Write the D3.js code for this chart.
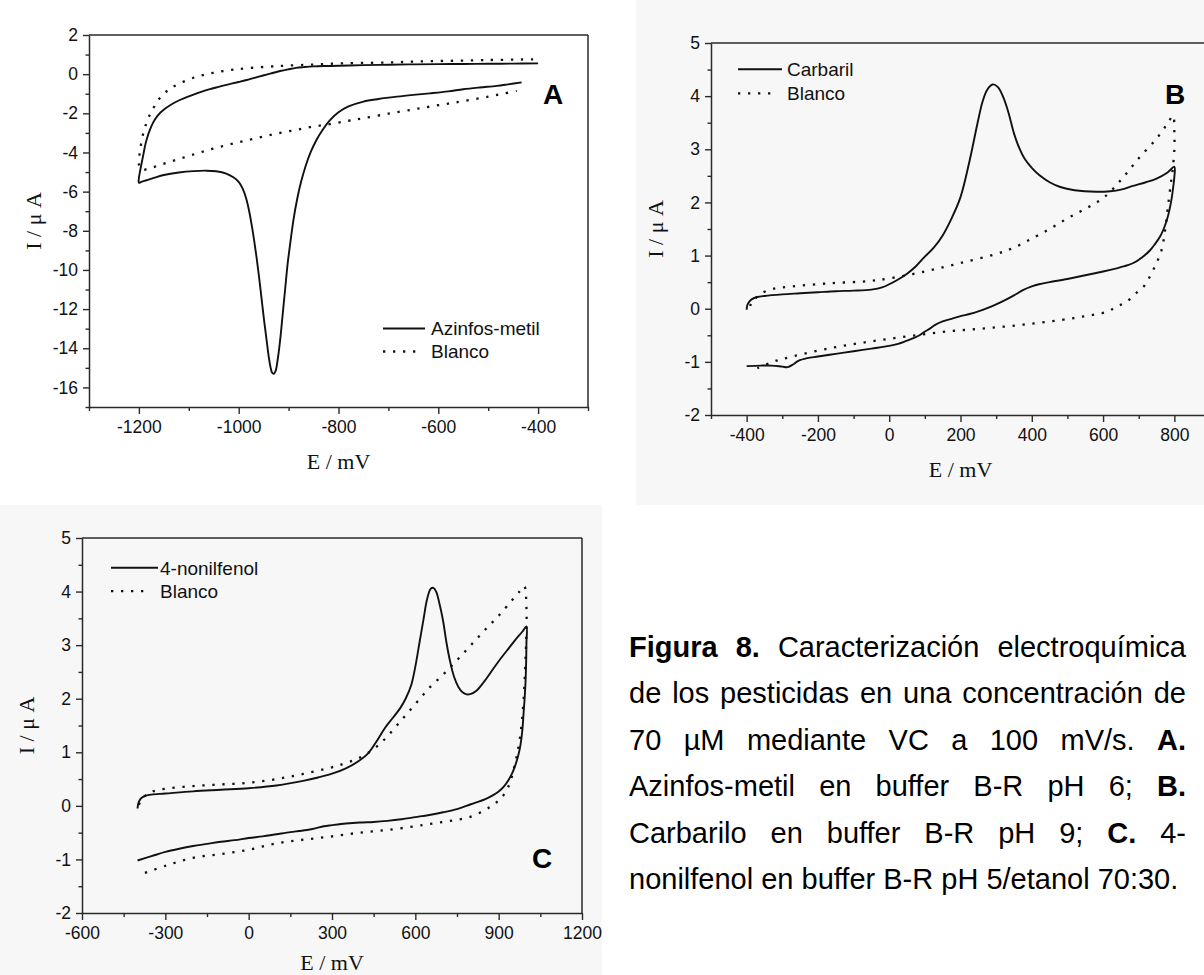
<!DOCTYPE html>
<html><head><meta charset="utf-8">
<script src="https://cdn.jsdelivr.net/npm/d3@7"></script>
<style>body{margin:0;background:#fff}svg{display:block}</style>
</head><body>
<svg id="fig" width="1204" height="975"></svg>
<script>
// ---------- DATA ----------
// Panel A: Azinfos-metil (solid) and Blanco (dotted)
const aAzinfosE = [-400,-450,-500,-550,-600,-650,-700,-750,-817,-850,-870,-885,-900,-917,-935,-951,-970,-984,-1000,-1017,-1035,-1051,-1068,-1084,-1100,-1118,-1135,-1151,-1162,-1171,-1178,-1184,-1188,-1191,-1195,-1198,-1200,
  -1200,-1195,-1185,-1170,-1150,-1120,-1090,-1065,-1045,-1025,-1010,-1000,-992,-985,-979,-974,-969,-964,-959,-954,-949,-944,-940,-936,-933,-930,-926,-922,-917,-912,-907,-902,-896,-890,-883,-875,-866,-856,-845,-832,-817,-800,-780,-750,-720,-683,-650,-617,-580,-550,-517,-483,-460,-433];
const aAzinfosI = [0.55,0.54,0.53,0.52,0.51,0.5,0.48,0.46,0.42,0.4,0.36,0.32,0.25,0.16,0.04,-0.07,-0.2,-0.3,-0.4,-0.5,-0.61,-0.72,-0.84,-0.98,-1.13,-1.32,-1.55,-1.83,-2.1,-2.45,-2.85,-3.3,-3.7,-4.1,-4.6,-5.0,-5.3,
  -5.55,-5.5,-5.42,-5.3,-5.15,-5.02,-4.95,-4.93,-4.96,-5.08,-5.28,-5.5,-5.85,-6.35,-7.0,-7.7,-8.5,-9.4,-10.4,-11.5,-12.6,-13.6,-14.4,-15.0,-15.25,-15.3,-15.15,-14.6,-13.6,-12.3,-11.0,-9.7,-8.5,-7.4,-6.4,-5.5,-4.7,-4.0,-3.4,-2.85,-2.35,-1.95,-1.65,-1.4,-1.27,-1.15,-1.06,-0.98,-0.88,-0.77,-0.68,-0.6,-0.52,-0.42];
const aBlancoE = [-410,-500,-617,-700,-817,-851,-917,-984,-1017,-1051,-1084,-1118,-1141,-1158,-1171,-1181,-1191,-1198,-1200,
  -1195,-1184,-1151,-1118,-1084,-1051,-1017,-984,-950,-917,-884,-851,-817,-780,-750,-700,-650,-617,-580,-550,-500,-470,-443];
const aBlancoI = [0.76,0.72,0.66,0.6,0.53,0.49,0.42,0.3,0.21,0.07,-0.13,-0.47,-0.81,-1.22,-1.73,-2.24,-3.0,-3.96,-4.6,
  -4.88,-4.85,-4.58,-4.32,-4.05,-3.8,-3.58,-3.38,-3.18,-3.0,-2.84,-2.68,-2.55,-2.38,-2.25,-2.02,-1.8,-1.66,-1.5,-1.38,-1.15,-1.0,-0.86];

// Panel B: Carbaril (solid) and Blanco (dotted)
const bCarbarilE = [-400,-398,-393,-385,-370,-350,-300,-250,-200,-150,-100,-50,-20,0,25,50,75,100,125,150,175,200,226,248,262,275,290,305,320,335,350,365,380,400,420,450,480,520,580,620,650,684,720,750,780,800,
  800,797,793,786,779,770,760,746,732,710,685,660,638,600,550,500,450,420,400,375,350,325,300,275,250,225,200,175,150,130,115,100,85,70,50,25,0,-50,-100,-150,-200,-230,-255,-270,-285,-300,-330,-360,-400];
const bCarbarilI = [-0.02,0.07,0.13,0.18,0.22,0.24,0.27,0.29,0.31,0.33,0.34,0.36,0.4,0.46,0.55,0.66,0.8,0.98,1.15,1.38,1.7,2.1,2.8,3.5,3.9,4.12,4.22,4.17,3.98,3.68,3.3,3.02,2.82,2.65,2.52,2.38,2.29,2.23,2.2,2.21,2.24,2.31,2.38,2.45,2.56,2.67,
  2.48,2.3,2.1,1.85,1.67,1.5,1.36,1.22,1.1,0.97,0.86,0.8,0.76,0.7,0.63,0.56,0.5,0.46,0.42,0.35,0.25,0.16,0.08,0.01,-0.05,-0.1,-0.14,-0.19,-0.24,-0.3,-0.37,-0.43,-0.5,-0.55,-0.6,-0.66,-0.7,-0.75,-0.8,-0.85,-0.9,-0.93,-0.98,-1.05,-1.1,-1.09,-1.07,-1.07,-1.08];
const bBlancoE = [-390,-386,-375,-359,-327,-272,-164,-56,0,100,200,300,350,400,450,500,550,600,650,700,750,780,792,797,
  800,800,795,790,782,774,764,750,736,718,694,666,638,610,550,484,376,268,160,52,-56,-164,-272,-327,-370];
const bBlancoI = [0.05,0.13,0.2,0.29,0.37,0.42,0.48,0.52,0.57,0.7,0.86,1.03,1.15,1.32,1.5,1.7,1.88,2.08,2.42,2.83,3.2,3.48,3.6,3.63,
  3.3,3.0,2.6,2.35,1.92,1.48,1.1,0.86,0.67,0.45,0.3,0.13,0.04,-0.06,-0.14,-0.21,-0.3,-0.37,-0.43,-0.52,-0.62,-0.74,-0.9,-1.0,-1.12];

// Panel C: 4-nonilfenol (solid) and Blanco (dotted)
const cNonilE = [-400,-398,-393,-385,-370,-350,-300,-200,-100,0,100,200,250,300,350,400,430,460,490,520,545,565,585,600,615,630,642,655,665,675,688,700,712,725,740,755,770,785,800,820,845,870,900,930,960,985,1000,
  1000,999,997,994,990,985,978,970,960,948,935,920,900,880,850,800,750,700,650,600,550,500,450,400,350,300,270,240,210,180,150,100,50,0,-50,-100,-150,-200,-250,-300,-350,-400];
const cNonilI = [-0.05,0.03,0.1,0.15,0.19,0.21,0.23,0.27,0.3,0.33,0.38,0.47,0.53,0.6,0.7,0.85,0.98,1.2,1.45,1.65,1.82,2.0,2.25,2.6,3.05,3.5,3.85,4.05,4.07,4.0,3.75,3.45,3.05,2.7,2.4,2.22,2.12,2.08,2.09,2.15,2.3,2.48,2.7,2.9,3.1,3.25,3.35,
  3.05,2.7,2.35,2.05,1.75,1.4,1.12,0.93,0.76,0.6,0.48,0.37,0.27,0.2,0.12,0.03,-0.06,-0.12,-0.17,-0.21,-0.25,-0.28,-0.3,-0.31,-0.33,-0.36,-0.38,-0.42,-0.45,-0.47,-0.49,-0.53,-0.57,-0.6,-0.64,-0.67,-0.71,-0.75,-0.8,-0.86,-0.94,-1.02];
const cBlancoE = [-395,-385,-370,-350,-300,-200,-100,0,100,200,300,350,400,460,500,550,600,650,700,750,800,850,900,950,975,992,
  1000,1000,998,994,990,984,976,966,955,940,920,900,875,850,800,750,700,650,600,500,400,300,200,100,0,-100,-200,-300,-400];
const cBlancoI = [0.02,0.13,0.2,0.26,0.32,0.37,0.4,0.43,0.5,0.6,0.72,0.8,0.9,1.1,1.3,1.6,1.9,2.2,2.45,2.72,3.0,3.28,3.55,3.85,4.0,4.1,
  3.7,3.3,2.9,2.4,2.0,1.6,1.25,0.95,0.7,0.42,0.22,0.1,0.0,-0.08,-0.2,-0.26,-0.3,-0.34,-0.38,-0.45,-0.5,-0.57,-0.63,-0.7,-0.82,-0.9,-0.97,-1.12,-1.3];

// Tick values
const aXMajor = [-1200,-1000,-800,-600,-400];
const aXMinor = [-1300,-1100,-900,-700,-500,-300];
const aYMajor = [2,0,-2,-4,-6,-8,-10,-12,-14,-16];
const aYMinor = [1,-1,-3,-5,-7,-9,-11,-13,-15,-17];
const bXMajor = [-400,-200,0,200,400,600,800];
const bXMinor = [-500,-300,-100,100,300,500,700,900];
const bYMajor = [5,4,3,2,1,0,-1,-2];
const bYMinor = [4.5,3.5,2.5,1.5,0.5,-0.5,-1.5];
const cXMajor = [-600,-300,0,300,600,900,1200];
const cXMinor = [-450,-150,150,450,750,1050];
const cYMajor = [5,4,3,2,1,0,-1,-2];
const cYMinor = [4.5,3.5,2.5,1.5,0.5,-0.5,-1.5];

// Legend / label texts
const aSeries = ["Azinfos-metil","Blanco"];
const bSeries = ["Carbaril","Blanco"];
const cSeries = ["4-nonilfenol","Blanco"];
const xTitle = "E / mV";
const yTitle = "I / \u03bc A";

const captionLines = [
  [["Figura",1],["8.",1],["Caracterización",0],["electroquímica",0]],
  [["de",0],["los",0],["pesticidas",0],["en",0],["una",0],["concentración",0],["de",0]],
  [["70",0],["\u00b5M",0],["mediante",0],["VC",0],["a",0],["100",0],["mV/s.",0],["A.",1]],
  [["Azinfos-metil",0],["en",0],["buffer",0],["B-R",0],["pH",0],["6;",0],["B.",1]],
  [["Carbarilo",0],["en",0],["buffer",0],["B-R",0],["pH",0],["9;",0],["C.",1],["4-",0]],
  [["nonilfenol",0],["en",0],["buffer",0],["B-R",0],["pH",0],["5/etanol",0],["70:30.",0]]
];

// ---------- DRAWING ----------
const svg = d3.select("#fig");
const SANS = "'Liberation Sans', Arial, sans-serif";
const SERIF = "'Liberation Serif', 'Times New Roman', serif";
const INK = "#111";
const AX = "#2a2a2a";

svg.append("rect").attr("width",1204).attr("height",975).attr("fill","#fff");
// faint scanned backgrounds of panels B and C
svg.append("rect").attr("x",636).attr("y",0).attr("width",568).attr("height",505).attr("fill","#f7f7f7");
svg.append("rect").attr("x",0).attr("y",505).attr("width",602).attr("height",470).attr("fill","#f7f7f7");

function zip(E,I){ return E.map((e,i)=>[e,I[i]]); }

function drawPanel(p){
  const x = d3.scaleLinear().domain(p.xd).range([p.left,p.right]);
  const y = d3.scaleLinear().domain(p.yd).range([p.bottom,p.top]);
  const g = svg.append("g");

  // frame (top and right)
  g.append("line").attr("x1",p.left).attr("x2",p.right).attr("y1",p.top).attr("y2",p.top)
    .attr("stroke",AX).attr("stroke-width",1.5);
  g.append("line").attr("x1",p.right).attr("x2",p.right).attr("y1",p.top).attr("y2",p.bottom)
    .attr("stroke",AX).attr("stroke-width",1.5);

  // x axis
  g.append("g").attr("transform",`translate(0,${p.bottom})`)
    .call(d3.axisBottom(x).tickValues(p.xMajor).tickFormat(d=>String(d)).tickSize(7).tickSizeOuter(0).tickPadding(7));
  g.append("g").attr("transform",`translate(0,${p.bottom})`)
    .call(d3.axisBottom(x).tickValues(p.xMinor).tickFormat("").tickSize(4).tickSizeOuter(0))
    .select(".domain").remove();
  // y axis
  g.append("g").attr("transform",`translate(${p.left},0)`)
    .call(d3.axisLeft(y).tickValues(p.yMajor).tickFormat(d=>String(d)).tickSize(6).tickSizeOuter(0).tickPadding(5));
  g.append("g").attr("transform",`translate(${p.left},0)`)
    .call(d3.axisLeft(y).tickValues(p.yMinor).tickFormat("").tickSize(3.5).tickSizeOuter(0))
    .select(".domain").remove();

  g.selectAll(".domain").attr("stroke",AX).attr("stroke-width",1.5);
  g.selectAll(".tick line").attr("stroke",AX).attr("stroke-width",1.4);
  g.selectAll(".tick text").attr("font-family",SANS).attr("font-size",17.5).attr("fill",INK);

  // axis titles
  g.append("text").attr("x",(p.left+p.right)/2).attr("y",Math.min(p.bottom+62,970))
    .attr("text-anchor","middle").attr("font-family",SERIF).attr("font-size",22).attr("fill",INK).text(xTitle);
  g.append("text").attr("transform",`translate(${p.left-48},${(p.top+p.bottom)/2}) rotate(-90)`)
    .attr("text-anchor","middle").attr("font-family",SERIF).attr("font-size",22).attr("fill",INK).text(yTitle);

  // curves
  const line = d3.line().x(d=>x(d[0])).y(d=>y(d[1])).curve(d3.curveCatmullRom.alpha(0.5));
  g.append("path").datum(zip(p.dotE,p.dotI)).attr("d",line).attr("fill","none")
    .attr("stroke","#111").attr("stroke-width",2.3).attr("stroke-dasharray","2.3,7.7");
  g.append("path").datum(zip(p.solE,p.solI)).attr("d",line).attr("fill","none")
    .attr("stroke","#111").attr("stroke-width",1.9).attr("stroke-linejoin","round");

  // legend
  const L = p.legend;
  g.append("line").attr("x1",L.x1).attr("x2",L.x2).attr("y1",L.y).attr("y2",L.y)
    .attr("stroke","#111").attr("stroke-width",2);
  g.append("line").attr("x1",L.x1).attr("x2",L.d2).attr("y1",L.y+L.gap).attr("y2",L.y+L.gap)
    .attr("stroke","#111").attr("stroke-width",2.3).attr("stroke-dasharray","2.3,7.7");
  g.append("text").attr("x",L.tx).attr("y",L.y+6.8).attr("font-family",SANS).attr("font-size",19).attr("fill",INK).text(p.series[0]);
  g.append("text").attr("x",L.tx).attr("y",L.y+L.gap+6.8).attr("font-family",SANS).attr("font-size",19).attr("fill",INK).text(p.series[1]);

  // panel letter
  g.append("text").attr("x",p.letter[1]).attr("y",p.letter[2]).attr("text-anchor","middle")
    .attr("font-family",SANS).attr("font-weight","bold").attr("font-size",28).attr("fill","#000").text(p.letter[0]);
}

drawPanel({xd:[-1300,-300], yd:[-17,2], left:89, right:588, top:35, bottom:407,
  xMajor:aXMajor, xMinor:aXMinor, yMajor:aYMajor, yMinor:aYMinor,
  solE:aAzinfosE, solI:aAzinfosI, dotE:aBlancoE, dotI:aBlancoI, series:aSeries,
  legend:{x1:383,x2:425,d2:420,y:328.5,gap:23,tx:431}, letter:["A",553,104]});

drawPanel({xd:[-500,900], yd:[-2,5], left:711, right:1210, top:43, bottom:415,
  xMajor:bXMajor, xMinor:bXMinor, yMajor:bYMajor, yMinor:bYMinor,
  solE:bCarbarilE, solI:bCarbarilI, dotE:bBlancoE, dotI:bBlancoI, series:bSeries,
  legend:{x1:738,x2:782,d2:775,y:69.3,gap:24,tx:787}, letter:["B",1175,104]});

drawPanel({xd:[-600,1200], yd:[-2,5], left:82, right:582, top:538, bottom:913,
  xMajor:cXMajor, xMinor:cXMinor, yMajor:cYMajor, yMinor:cYMinor,
  solE:cNonilE, solI:cNonilI, dotE:cBlancoE, dotI:cBlancoI, series:cSeries,
  legend:{x1:111,x2:158,d2:146,y:567.7,gap:23.5,tx:160}, letter:["C",542,868]});

// ---------- CAPTION (justified) ----------
const capLeft = 629, capRight = 1186, capFont = 29, capTop = 657, capStep = 46.4;
const cap = svg.append("g").attr("font-family",SANS).attr("font-size",capFont).attr("fill","#000");
captionLines.forEach((words,li)=>{
  const yb = capTop + li*capStep;
  const nodes = words.map(w => cap.append("text").attr("y",yb).attr("font-weight",w[1]?"bold":"normal").text(w[0]));
  const widths = nodes.map(n => n.node().getComputedTextLength());
  const total = d3.sum(widths);
  const last = li === captionLines.length-1;
  const gap = last ? capFont*0.278 : (capRight-capLeft-total)/(words.length-1);
  let xp = capLeft;
  nodes.forEach((n,i)=>{ n.attr("x",xp); xp += widths[i] + gap; });
});
</script>
</body></html>
